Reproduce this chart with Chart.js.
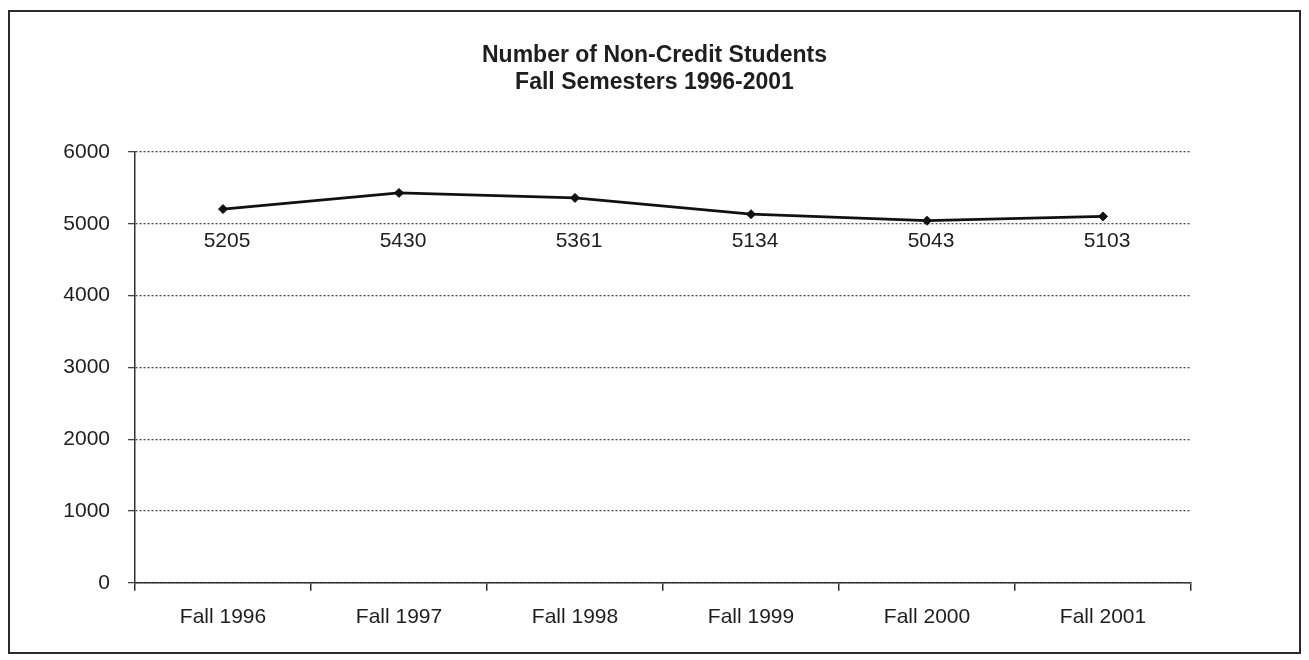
<!DOCTYPE html>
<html>
<head>
<meta charset="utf-8">
<title>Number of Non-Credit Students</title>
<script src="https://cdn.jsdelivr.net/npm/chart.js@4.4.1/dist/chart.umd.min.js"></script>
<style>
  html, body { margin: 0; padding: 0; background: #fff; }
  #wrap { width: 1309px; height: 660px; position: relative; }
</style>
</head>
<body>
<div id="wrap"><canvas id="students"></canvas></div>
<script>
// fall headcounts, one per semester
const semesters = ['Fall 1996', 'Fall 1997', 'Fall 1998', 'Fall 1999', 'Fall 2000', 'Fall 2001'];
const students = [5205, 5430, 5361, 5134, 5043, 5103];
const yTicks = [0, 1000, 2000, 3000, 4000, 5000, 6000];
const titleLines = ['Number of Non-Credit Students', 'Fall Semesters 1996-2001'];

const FONT = "'Liberation Sans', Arial, Helvetica, sans-serif";
const INK = '#1e1e1e';

// two-line heading centred on the whole figure, not just the plot
const heading = {
  id: 'heading',
  afterDraw(chart) {
    const { ctx, width } = chart;
    ctx.save();
    ctx.font = 'bold 23px ' + FONT;
    ctx.fillStyle = INK;
    ctx.textAlign = 'center';
    ctx.textBaseline = 'middle';
    titleLines.forEach((line, i) => ctx.fillText(line, width / 2, 56 + i * 27));
    ctx.restore();
  }
};

// value labels sit in a row just under the 5000 gridline
const valueLabels = {
  id: 'valueLabels',
  afterDatasetsDraw(chart) {
    const { ctx, scales } = chart;
    const meta = chart.getDatasetMeta(0);
    const rowY = scales.y.getPixelForValue(5000) + 17;
    ctx.save();
    ctx.font = '21px ' + FONT;
    ctx.fillStyle = INK;
    ctx.textAlign = 'center';
    ctx.textBaseline = 'middle';
    meta.data.forEach((pt, i) => {
      ctx.fillText(String(students[i]), pt.x + 4, rowY);
    });
    ctx.restore();
  }
};

// frame around the whole figure
const frame = {
  id: 'frame',
  afterDraw(chart) {
    const { ctx } = chart;
    ctx.save();
    ctx.strokeStyle = '#2a2a2a';
    ctx.lineWidth = 2;
    ctx.strokeRect(9, 11, 1291, 642);
    ctx.restore();
  }
};

const chart = new Chart(document.getElementById('students'), {
  type: 'line',
  data: {
    labels: semesters,
    datasets: [{
      data: students,
      borderColor: '#111',
      borderWidth: 2.8,
      backgroundColor: '#111',
      pointStyle: 'rectRot',
      pointRadius: 4.5,
      pointBorderWidth: 1,
      tension: 0,
      fill: false
    }]
  },
  options: {
    responsive: true,
    maintainAspectRatio: false,
    animation: false,
    layout: { padding: { left: 20, right: 118, top: 152, bottom: 16 } },
    plugins: {
      legend: { display: false },
      tooltip: { enabled: false },
      title: { display: false }
    },
    scales: {
      x: {
        offset: true,
        grid: {
          offset: true,
          drawOnChartArea: false,
          drawTicks: true,
          tickLength: 8,
          color: '#333',
          lineWidth: 1.5
        },
        border: { display: true, color: '#333', width: 1.5 },
        ticks: {
          color: INK,
          padding: 14,
          maxRotation: 0,
          font: { family: FONT, size: 21 }
        }
      },
      y: {
        min: 0,
        max: 6000,
        afterFit(scale) { scale.width = 115; },
        afterBuildTicks(scale) { scale.ticks = yTicks.map(v => ({ value: v })); },
        grid: {
          color: '#4a4a4a',
          lineWidth: 1.3,
          drawTicks: true,
          tickLength: 7,
          tickColor: '#444'
        },
        border: { display: true, color: '#333', width: 1.5, dash: [2, 2] },
        ticks: {
          color: INK,
          padding: 18,
          font: { family: FONT, size: 21 },
          callback: v => String(v)
        }
      }
    }
  },
  plugins: [valueLabels, heading, frame]
});
</script>
</body>
</html>
